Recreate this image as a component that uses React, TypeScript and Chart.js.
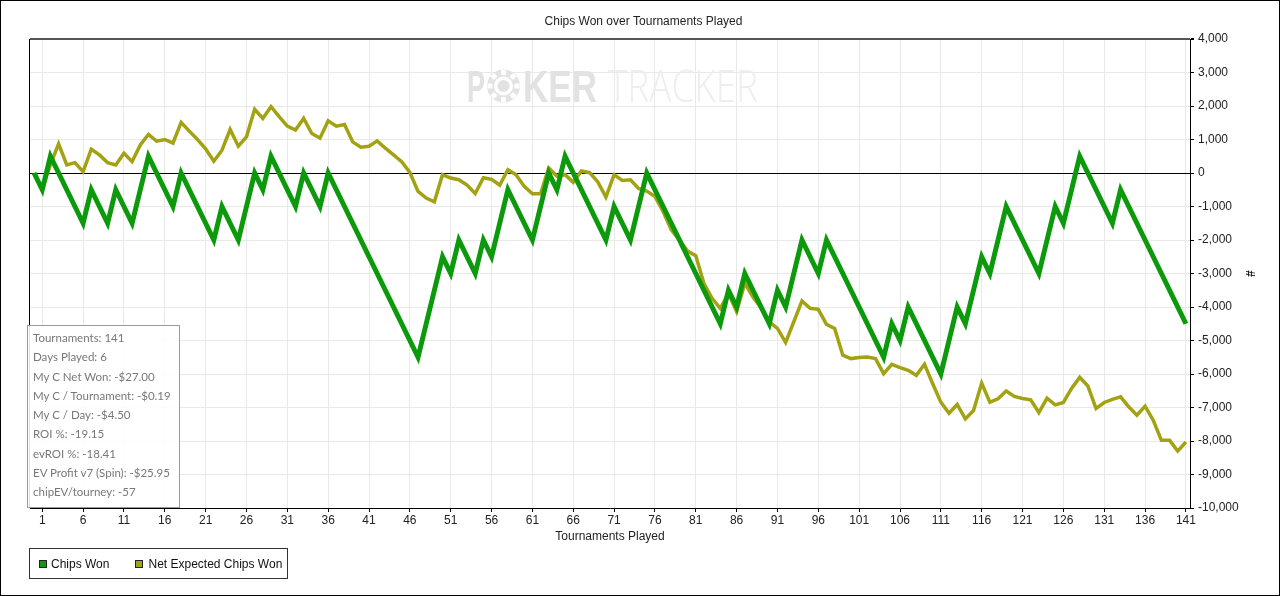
import React, { useEffect, useRef } from 'react';
import { Chart, registerables } from 'chart.js';

Chart.register(...registerables);

// ---- data ----
const tournamentLabels: string[] = Array.from({ length: 142 }, (_, i) => String(i));

const xTickLabels: string[] = [
  '1', '6', '11', '16', '21', '26', '31', '36', '41', '46', '51', '56', '61', '66', '71',
  '76', '81', '86', '91', '96', '101', '106', '111', '116', '121', '126', '131', '136', '141',
];

const chipsWon: number[] = [
  0, -500, 500, 0, -500, -1000, -1500, -500, -1000, -1500,
  -500, -1000, -1500, -500, 500, 0, -500, -1000, 0, -500,
  -1000, -1500, -2000, -1000, -1500, -2000, -1000, 0, -500, 500,
  0, -500, -1000, 0, -500, -1000, 0, -500, -1000, -1500,
  -2000, -2500, -3000, -3500, -4000, -4500, -5000, -5500, -4500, -3500,
  -2500, -3000, -2000, -2500, -3000, -2000, -2500, -1500, -500, -1000,
  -1500, -2000, -1000, 0, -500, 500, 0, -500, -1000, -1500,
  -2000, -1000, -1500, -2000, -1000, 0, -500, -1000, -1500, -2000,
  -2500, -3000, -3500, -4000, -4500, -3500, -4000, -3000, -3500, -4000,
  -4500, -3500, -4000, -3000, -2000, -2500, -3000, -2000, -2500, -3000,
  -3500, -4000, -4500, -5000, -5500, -4500, -5000, -4000, -4500, -5000,
  -5500, -6000, -5000, -4000, -4500, -3500, -2500, -3000, -2000, -1000,
  -1500, -2000, -2500, -3000, -2000, -1000, -1500, -500, 500, 0,
  -500, -1000, -1500, -500, -1000, -1500, -2000, -2500, -3000, -3500,
  -4000, -4500,
];

const netExpectedChipsWon: number[] = [
  0, -480, 250, 870, 240, 310, 40, 710, 540, 310,
  240, 590, 340, 840, 1150, 950, 1000, 890, 1510, 1250,
  1000, 720, 350, 680, 1300, 800, 1080, 1900, 1630, 1980,
  1680, 1400, 1280, 1630, 1180, 1040, 1560, 1400, 1450, 930,
  770, 800, 960, 740, 540, 340, 20, -550, -750, -860,
  -50, -150, -200, -360, -610, -140, -190, -360, 100, -50,
  -400, -620, -620, 150, -90, -50, -280, 60, 10, -260,
  -720, -50, -220, -200, -460, -540, -700, -1150, -1700, -2000,
  -2330, -2470, -3300, -3740, -4040, -3600, -4140, -3290, -3700, -4030,
  -4440, -4640, -5060, -4440, -3820, -4040, -4070, -4520, -4640, -5440,
  -5540, -5510, -5490, -5540, -5990, -5710, -5810, -5890, -6040, -5710,
  -6290, -6840, -7170, -6910, -7340, -7090, -6270, -6840, -6740, -6510,
  -6670, -6730, -6770, -7150, -6720, -6920, -6850, -6430, -6100, -6360,
  -7030, -6850, -6760, -6680, -6980, -7230, -6960, -7380, -7980, -7980,
  -8300, -8030,
];

const seriesNames: string[] = ['Chips Won', 'Net Expected Chips Won'];
const seriesColors: string[] = ['#0c9a0c', '#a2a212'];

const statsLines: string[] = [
  'Tournaments: 141',
  'Days Played: 6',
  'My C Net Won: -$27.00',
  'My C / Tournament: -$0.19',
  'My C / Day: -$4.50',
  'ROI %: -19.15',
  'evROI %: -18.41',
  'EV Profit v7 (Spin): -$25.95',
  'chipEV/tourney: -57',
];

const FONT = '"Liberation Sans", Arial, sans-serif';

const decorPlugin = {
  id: 'decor',
  beforeDatasetsDraw(chart: any) {
    const { ctx, chartArea: a } = chart;
    const cx = (a.left + a.right) / 2 + 2;
    const base = a.top + 63;
    const drawFit = (text: string, x: number, w: number, font: string, color: string) => {
      ctx.font = font;
      const m = ctx.measureText(text).width;
      ctx.save();
      ctx.translate(x, base);
      ctx.scale(w / m, 1);
      ctx.fillStyle = color;
      ctx.textBaseline = 'alphabetic';
      ctx.textAlign = 'left';
      ctx.fillText(text, 0, 0);
      ctx.restore();
    };
    ctx.save();
    const grey = '#e2e2e2';
    drawFit('P', cx - 145, 18, 'bold 44px ' + FONT, grey);
    // chip as the "O"
    const chx = cx - 108.5;
    const chy = base - 16;
    ctx.fillStyle = grey;
    ctx.beginPath();
    ctx.arc(chx, chy, 16.5, 0, Math.PI * 2);
    ctx.fill();
    ctx.fillStyle = '#ffffff';
    for (let k = 0; k < 8; k++) {
      const ang = (k * Math.PI) / 4;
      ctx.save();
      ctx.translate(chx + Math.cos(ang) * 13.5, chy + Math.sin(ang) * 13.5);
      ctx.rotate(ang);
      ctx.fillRect(-2.5, -2.5, 5, 5);
      ctx.restore();
    }
    ctx.beginPath();
    ctx.arc(chx, chy, 9.5, 0, Math.PI * 2);
    ctx.fill();
    ctx.fillStyle = grey;
    ctx.beginPath();
    ctx.arc(chx, chy, 6, 0, Math.PI * 2);
    ctx.fill();
    drawFit('KER', cx - 89, 74, 'bold 44px ' + FONT, grey);
    drawFit('TRACKER', cx - 4, 150, '300 44px "Open Sans", ' + FONT, '#eeeeee');
    ctx.restore();
  },
  afterDraw(chart: any) {
    const { ctx, chartArea: a } = chart;
    ctx.save();
    ctx.strokeStyle = '#000';
    ctx.lineWidth = 1;
    ctx.beginPath();
    ctx.moveTo(a.left - 0.5, a.top);
    ctx.lineTo(a.left - 0.5, a.bottom);
    ctx.stroke();
    ctx.restore();
  },
};

export default function App() {
  const canvasRef = useRef<HTMLCanvasElement | null>(null);

  useEffect(() => {
    document.body.style.margin = '0';
    const canvas = canvasRef.current;
    if (!canvas) return;
    const chart = new Chart(canvas, {
      type: 'line',
      data: {
        labels: tournamentLabels,
        datasets: [
          {
            label: seriesNames[0],
            data: chipsWon,
            borderColor: seriesColors[0],
            backgroundColor: seriesColors[0],
            borderWidth: 5,
            pointRadius: 0,
            tension: 0,
            fill: false,
          },
          {
            label: seriesNames[1],
            data: netExpectedChipsWon,
            borderColor: seriesColors[1],
            backgroundColor: seriesColors[1],
            borderWidth: 3.5,
            pointRadius: 0,
            tension: 0,
            fill: false,
          },
        ],
      },
      options: {
        responsive: false,
        animation: false,
        devicePixelRatio: 1,
        layout: { padding: { left: 29, right: 22, top: 0, bottom: 51 } },
        plugins: {
          legend: { display: false },
          tooltip: { enabled: false },
          title: {
            display: true,
            text: 'Chips Won over Tournaments Played',
            color: '#222',
            font: { family: FONT, size: 12, weight: 'normal' },
            padding: { top: 13, bottom: 10.6 },
          },
        },
        scales: {
          x: {
            type: 'category',
            offset: true,
            grid: { color: '#e9e9e9', tickColor: '#000', tickLength: 4, offset: false },
            border: { color: '#000', width: 1 },
            ticks: {
              autoSkip: false,
              maxRotation: 0,
              padding: 1,
              color: '#222',
              font: { family: FONT, size: 12 },
            },
            afterBuildTicks: (scale: any) => {
              scale.ticks = scale.ticks.filter((t: any) => xTickLabels.includes(tournamentLabels[t.value]));
            },
            title: {
              display: true,
              text: 'Tournaments Played',
              color: '#222',
              font: { family: FONT, size: 12 },
              padding: 0,
            },
            afterFit: (scale: any) => {
              scale.height = 36;
            },
          },
          y: {
            position: 'right',
            min: -10000,
            max: 4000,
            ticks: {
              stepSize: 1000,
              color: '#222',
              padding: 4,
              font: { family: FONT, size: 12 },
              callback: (v: any) => Number(v).toLocaleString('en-US'),
            },
            grid: {
              color: (c: any) => (c.tick && c.tick.value === 0 ? '#000' : c.tick && c.tick.value === 4000 ? '#555' : '#e9e9e9'),
              lineWidth: (c: any) => (c.tick && c.tick.value === 4000 ? 2 : 1),
              tickColor: '#000',
              tickLength: 4,
            },
            border: { color: '#000', width: 1 },
            title: {
              display: true,
              text: '#',
              color: '#222',
              font: { family: FONT, size: 12, weight: 'bold' },
              padding: 0,
            },
            afterFit: (scale: any) => {
              scale.width = 67;
            },
          },
        },
      },
      plugins: [decorPlugin],
    } as any);
    return () => chart.destroy();
  }, []);

  return (
    <div
      style={{
        position: 'relative',
        width: 1280,
        height: 596,
        border: '1px solid #000',
        boxSizing: 'border-box',
        background: '#fff',
        overflow: 'hidden',
      }}
    >
      <canvas ref={canvasRef} width={1278} height={594} style={{ position: 'absolute', left: 0, top: 0 }} />
      <div
        style={{
          position: 'absolute',
          left: 26,
          top: 324,
          width: 153,
          height: 183,
          boxSizing: 'border-box',
          border: '1px solid #9a9a9a',
          background: 'rgba(255,255,255,0.88)',
          padding: '2px 0 0 5px',
          fontFamily: 'Lato, "Open Sans", sans-serif',
          fontSize: 11.5,
          lineHeight: '19.3px',
          color: '#787878',
          whiteSpace: 'nowrap',
        }}
      >
        {statsLines.map((s) => (
          <div key={s}>{s}</div>
        ))}
      </div>
      <div
        style={{
          position: 'absolute',
          left: 28,
          top: 547,
          width: 259,
          height: 31,
          boxSizing: 'border-box',
          border: '1px solid #333',
          display: 'flex',
          alignItems: 'center',
          paddingLeft: 9,
          fontFamily: FONT,
          fontSize: 12,
          color: '#111',
          whiteSpace: 'nowrap',
        }}
      >
        {seriesNames.map((n, i) => (
          <div key={n} style={{ display: 'flex', alignItems: 'center', marginRight: i === 0 ? 26 : 0 }}>
            <span
              style={{
                display: 'inline-block',
                width: 8,
                height: 8,
                boxSizing: 'border-box',
                border: '1px solid #222',
                background: seriesColors[i],
                marginRight: i === 0 ? 4 : 5,
              }}
            />
            <span>{n}</span>
          </div>
        ))}
      </div>
    </div>
  );
}
